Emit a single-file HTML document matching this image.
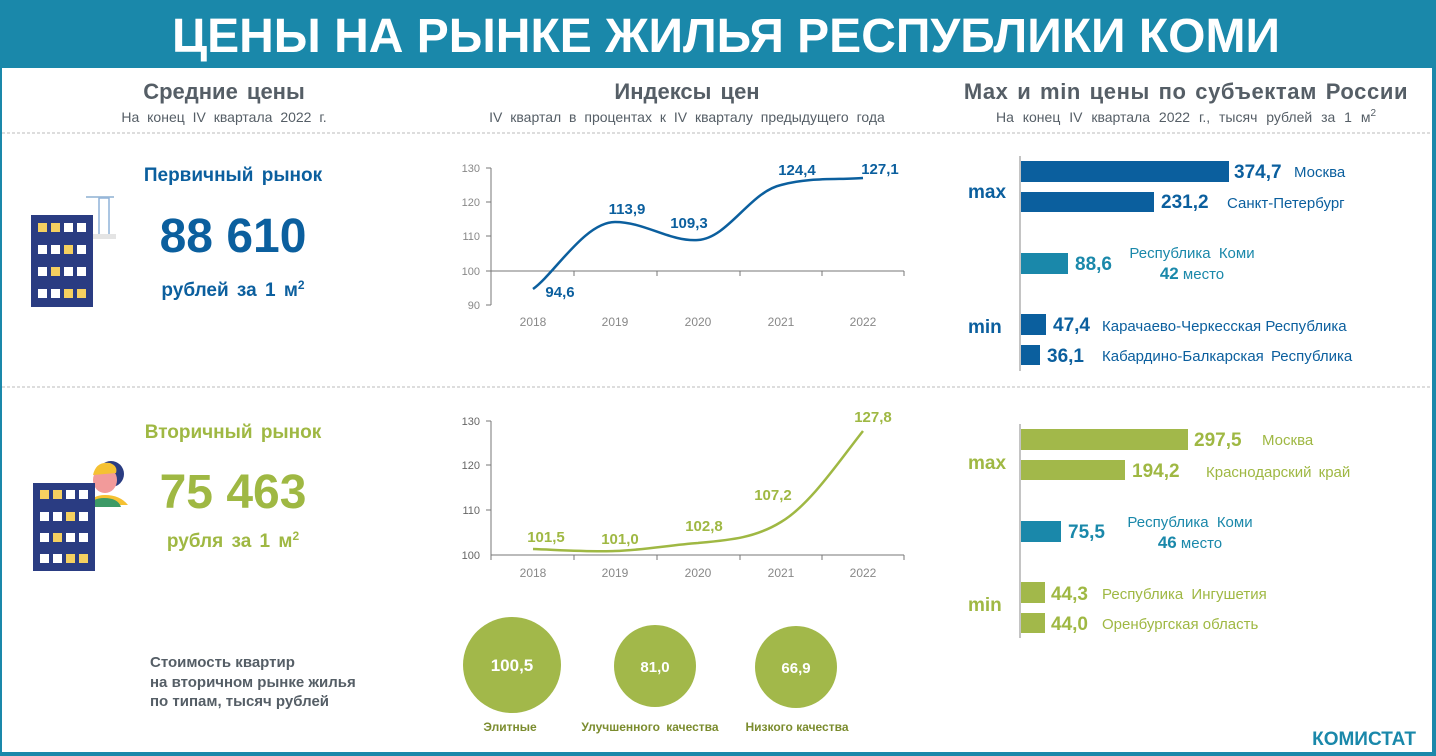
<!DOCTYPE html>
<html><head><meta charset="utf-8"><style>
html,body{margin:0;padding:0;background:#fff}
svg{display:block}
text{font-family:"Liberation Sans",sans-serif}
</style></head><body>
<svg width="1436" height="756" viewBox="0 0 1436 756" xmlns="http://www.w3.org/2000/svg">
<rect x="0" y="0" width="1436" height="756" fill="#fff"/>
<rect x="0" y="0" width="1436" height="68" fill="#1a88aa"/>
<rect x="0" y="0" width="2" height="756" fill="#1a88aa"/>
<rect x="1432" y="0" width="4" height="756" fill="#1a88aa"/>
<rect x="0" y="752" width="1436" height="4" fill="#1a88aa"/>
<text x="726" y="52" text-anchor="middle" font-size="48" font-weight="bold" fill="#fff">ЦЕНЫ НА РЫНКЕ ЖИЛЬЯ РЕСПУБЛИКИ КОМИ</text>

<g fill="#555e66" text-anchor="middle">
<text x="224" y="99" font-size="22" font-weight="bold" word-spacing="3">Средние цены</text>
<text x="224" y="122" font-size="14" word-spacing="4">На конец IV квартала 2022 г.</text>
<text x="687" y="99" font-size="22" font-weight="bold" word-spacing="3">Индексы цен</text>
<text x="687" y="122" font-size="14" word-spacing="4">IV квартал в процентах к IV кварталу предыдущего года</text>
<text x="1186" y="99" font-size="22" font-weight="bold" word-spacing="2" letter-spacing="0.6">Max и min цены по субъектам России</text>
<text x="1186" y="122" font-size="14" word-spacing="5">На конец IV квартала 2022 г., тысяч рублей за 1 м<tspan font-size="10" dy="-6">2</tspan></text>
</g>
<line x1="2" y1="133" x2="1432" y2="133" stroke="#bbb" stroke-dasharray="3,2"/>
<line x1="2" y1="387" x2="1432" y2="387" stroke="#bbb" stroke-dasharray="3,2"/>

<g text-anchor="middle" font-weight="bold" fill="#0b5f9e">
<text x="233" y="181" font-size="19" word-spacing="3">Первичный рынок</text>
<text x="233" y="252" font-size="48">88 610</text>
<text x="233" y="296" font-size="19" word-spacing="3">рублей за 1 м<tspan font-size="12" dy="-7">2</tspan></text>
</g>
<g fill="#9fb843" text-anchor="middle" font-weight="bold">
<text x="233" y="438" font-size="19" word-spacing="3">Вторичный рынок</text>
<text x="233" y="508" font-size="48">75 463</text>
<text x="233" y="547" font-size="19" word-spacing="3">рубля за 1 м<tspan font-size="12" dy="-7">2</tspan></text>
</g>

<g>
<rect x="86" y="196" width="28" height="2" fill="#aac4dd"/>
<rect x="99" y="198" width="10" height="38" fill="none" stroke="#8fb2d8" stroke-width="1.5"/>
<rect x="89" y="234" width="27" height="5" fill="#e4e4e4"/>
<rect x="31" y="215" width="62" height="92" fill="#2a3c82"/>
<g fill="#fff">
<rect x="38" y="223" width="9" height="9" fill="#f5d060"/><rect x="51" y="223" width="9" height="9" fill="#f5d060"/><rect x="64" y="223" width="9" height="9"/><rect x="77" y="223" width="9" height="9"/>
<rect x="38" y="245" width="9" height="9"/><rect x="51" y="245" width="9" height="9"/><rect x="64" y="245" width="9" height="9" fill="#f5d060"/><rect x="77" y="245" width="9" height="9"/>
<rect x="38" y="267" width="9" height="9"/><rect x="51" y="267" width="9" height="9" fill="#f5d060"/><rect x="64" y="267" width="9" height="9"/><rect x="77" y="267" width="9" height="9"/>
<rect x="38" y="289" width="9" height="9"/><rect x="51" y="289" width="9" height="9"/><rect x="64" y="289" width="9" height="9" fill="#f5d060"/><rect x="77" y="289" width="9" height="9" fill="#f5d060"/>
</g>
</g>
<g>
<circle cx="111" cy="474" r="13" fill="#2a3c82"/>
<ellipse cx="105" cy="480" rx="12" ry="13" fill="#f29a9a"/>
<path d="M93 475 Q96 461 110 463 Q118 466 116 473 Z" fill="#f5c132"/>
<path d="M88 505 Q92 495 105 495 Q120 495 128 505 Z" fill="#f5c132"/>
<path d="M88 507 Q92 498 104 498 Q118 498 121 507 Z" fill="#3d9a66"/>
<rect x="33" y="483" width="62" height="88" fill="#2a3c82"/>
<g fill="#fff">
<rect x="40" y="490" width="9" height="9" fill="#f5d060"/><rect x="53" y="490" width="9" height="9" fill="#f5d060"/><rect x="66" y="490" width="9" height="9"/><rect x="79" y="490" width="9" height="9"/>
<rect x="40" y="512" width="9" height="9"/><rect x="53" y="512" width="9" height="9"/><rect x="66" y="512" width="9" height="9" fill="#f5d060"/><rect x="79" y="512" width="9" height="9"/>
<rect x="40" y="533" width="9" height="9"/><rect x="53" y="533" width="9" height="9" fill="#f5d060"/><rect x="66" y="533" width="9" height="9"/><rect x="79" y="533" width="9" height="9"/>
<rect x="40" y="554" width="9" height="9"/><rect x="53" y="554" width="9" height="9"/><rect x="66" y="554" width="9" height="9" fill="#f5d060"/><rect x="79" y="554" width="9" height="9" fill="#f5d060"/>
</g>
</g>

<g stroke="#777" stroke-width="1" fill="none">
<line x1="491" y1="168" x2="491" y2="305"/>
<line x1="486" y1="168" x2="491" y2="168"/><line x1="486" y1="202" x2="491" y2="202"/><line x1="486" y1="236" x2="491" y2="236"/><line x1="486" y1="271" x2="491" y2="271"/><line x1="486" y1="305" x2="491" y2="305"/>
<line x1="491" y1="271" x2="904" y2="271"/>
<line x1="574" y1="271" x2="574" y2="276"/><line x1="657" y1="271" x2="657" y2="276"/><line x1="740" y1="271" x2="740" y2="276"/><line x1="822" y1="271" x2="822" y2="276"/><line x1="904" y1="271" x2="904" y2="276"/>
</g>
<g fill="#888" font-size="11" text-anchor="end">
<text x="480" y="172">130</text><text x="480" y="206">120</text><text x="480" y="240">110</text><text x="480" y="275">100</text><text x="480" y="309">90</text>
</g>
<g fill="#888" font-size="12" text-anchor="middle">
<text x="533" y="326">2018</text><text x="615" y="326">2019</text><text x="698" y="326">2020</text><text x="781" y="326">2021</text><text x="863" y="326">2022</text>
</g>
<path d="M533 289 C555 273 585 222 615 222 C645 222 670 242 698 240 C728 238 750 192 781 185 C810 177 840 180 863 178" fill="none" stroke="#0b5f9e" stroke-width="2.5"/>
<g fill="#0b5f9e" font-size="15" font-weight="bold" text-anchor="middle">
<text x="560" y="297">94,6</text><text x="627" y="214">113,9</text><text x="689" y="228">109,3</text><text x="797" y="175">124,4</text><text x="880" y="174">127,1</text>
</g>

<g stroke="#777" stroke-width="1" fill="none">
<line x1="491" y1="421" x2="491" y2="555"/>
<line x1="486" y1="421" x2="491" y2="421"/><line x1="486" y1="465" x2="491" y2="465"/><line x1="486" y1="510" x2="491" y2="510"/>
<line x1="491" y1="555" x2="904" y2="555"/>
<line x1="491" y1="555" x2="491" y2="560"/><line x1="574" y1="555" x2="574" y2="560"/><line x1="657" y1="555" x2="657" y2="560"/><line x1="740" y1="555" x2="740" y2="560"/><line x1="822" y1="555" x2="822" y2="560"/><line x1="904" y1="555" x2="904" y2="560"/>
</g>
<g fill="#666" font-size="11" text-anchor="end">
<text x="480" y="425">130</text><text x="480" y="469">120</text><text x="480" y="514">110</text><text x="480" y="559">100</text>
</g>
<g fill="#888" font-size="12" text-anchor="middle">
<text x="533" y="577">2018</text><text x="615" y="577">2019</text><text x="698" y="577">2020</text><text x="781" y="577">2021</text><text x="863" y="577">2022</text>
</g>
<path d="M533 549 C560 550 590 552 615 551 C645 550 670 545 698 543 C730 540 755 538 781 522 C810 505 840 460 863 431" fill="none" stroke="#9fb843" stroke-width="2.5"/>
<g fill="#9fb843" font-size="15" font-weight="bold" text-anchor="middle">
<text x="546" y="542">101,5</text><text x="620" y="544">101,0</text><text x="704" y="531">102,8</text><text x="773" y="500">107,2</text><text x="873" y="422">127,8</text>
</g>

<g fill="#555e66" font-size="15" font-weight="bold">
<text x="150" y="667">Стоимость квартир</text>
<text x="150" y="687">на вторичном рынке жилья</text>
<text x="150" y="706">по типам, тысяч рублей</text>
</g>
<ellipse cx="512" cy="665" rx="49" ry="48" fill="#a2b84a"/>
<circle cx="655" cy="666" r="41" fill="#a2b84a"/>
<circle cx="796" cy="667" r="41" fill="#a2b84a"/>
<g fill="#fff" font-weight="bold" text-anchor="middle">
<text x="512" y="671" font-size="17">100,5</text>
<text x="655" y="672" font-size="15">81,0</text>
<text x="796" y="673" font-size="15">66,9</text>
</g>
<g fill="#7b8c2e" font-size="12" font-weight="bold" text-anchor="middle">
<text x="510" y="731">Элитные</text>
<text x="650" y="731" word-spacing="3">Улучшенного качества</text>
<text x="797" y="731">Низкого качества</text>
</g>

<line x1="1020" y1="156" x2="1020" y2="371" stroke="#888" stroke-width="1"/>
<g fill="#0b5f9e">
<rect x="1021" y="161" width="208" height="21"/>
<rect x="1021" y="192" width="133" height="20"/>
<rect x="1021" y="314" width="25" height="21"/>
<rect x="1021" y="345" width="19" height="20"/>
</g>
<rect x="1021" y="253" width="47" height="21" fill="#1a88aa"/>
<g font-weight="bold" font-size="19" fill="#0b5f9e">
<text x="968" y="198">max</text><text x="968" y="333">min</text>
<text x="1234" y="178">374,7</text>
<text x="1161" y="208">231,2</text>
<text x="1053" y="331">47,4</text>
<text x="1047" y="362">36,1</text>
</g>
<text x="1075" y="270" font-weight="bold" font-size="19" fill="#1a88aa">88,6</text>
<g font-size="15" fill="#0b5f9e">
<text x="1294" y="177">Москва</text>
<text x="1227" y="208">Санкт-Петербург</text>
<text x="1102" y="331">Карачаево-Черкесская Республика</text>
<text x="1102" y="361" word-spacing="3">Кабардино-Балкарская Республика</text>
</g>
<g font-size="15" fill="#1a88aa" text-anchor="middle">
<text x="1192" y="258" word-spacing="4">Республика Коми</text>
<text x="1192" y="279"><tspan font-weight="bold" font-size="17">42</tspan> место</text>
</g>

<line x1="1020" y1="424" x2="1020" y2="638" stroke="#888" stroke-width="1"/>
<g fill="#a2b84a">
<rect x="1021" y="429" width="167" height="21"/>
<rect x="1021" y="460" width="104" height="20"/>
<rect x="1021" y="582" width="24" height="21"/>
<rect x="1021" y="613" width="24" height="20"/>
</g>
<rect x="1021" y="521" width="40" height="21" fill="#1a88aa"/>
<g font-weight="bold" font-size="19" fill="#9fb843">
<text x="968" y="469">max</text><text x="968" y="611">min</text>
<text x="1194" y="446">297,5</text>
<text x="1132" y="477">194,2</text>
<text x="1051" y="600">44,3</text>
<text x="1051" y="630">44,0</text>
</g>
<text x="1068" y="538" font-weight="bold" font-size="19" fill="#1a88aa">75,5</text>
<g font-size="15" fill="#9fb843">
<text x="1262" y="445">Москва</text>
<text x="1206" y="477" word-spacing="3">Краснодарский край</text>
<text x="1102" y="599" word-spacing="4">Республика Ингушетия</text>
<text x="1102" y="629">Оренбургская область</text>
</g>
<g font-size="15" fill="#1a88aa" text-anchor="middle">
<text x="1190" y="527" word-spacing="4">Республика Коми</text>
<text x="1190" y="548"><tspan font-weight="bold" font-size="17">46</tspan> место</text>
</g>

<text x="1416" y="745" text-anchor="end" font-size="19" font-weight="bold" fill="#1a88aa">КОМИСТАТ</text>
</svg>
</body></html>
